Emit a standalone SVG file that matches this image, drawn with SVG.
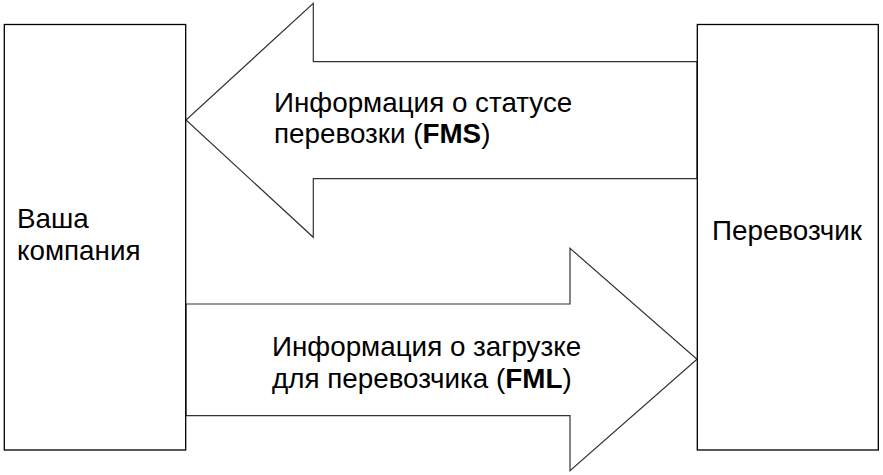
<svg xmlns="http://www.w3.org/2000/svg" width="883" height="475" viewBox="0 0 883 475">
<style>
.box{fill:#fff;stroke:#000;stroke-width:1.3}
.arr{fill:#fff;stroke:#333;stroke-width:1.2}
text{font-family:"Liberation Sans",Arial,sans-serif;font-size:27.8px;fill:#000}
.b{font-weight:bold}
</style>
<rect width="883" height="475" fill="#fff"/>
<g id="connectors">
<polygon id="arrow-fms" class="arr" points="697,61.7 313.3,61.7 313.3,3.3 186,120 313.3,237.3 313.3,178.7 697,178.7"/>
<polygon id="arrow-fml" class="arr" points="186,304 570,304 570,248.3 697,359.3 570,470.7 570,415.7 186,415.7"/>
<text x="274" y="111.7">Информация о статусе</text>
<text x="274" y="143.3">перевозки (<tspan class="b">FMS</tspan>)</text>
<text x="272" y="356">Информация о загрузке</text>
<text x="272" y="388">для перевозчика (<tspan class="b">FML</tspan>)</text>
</g>
<g id="node-company">
<rect class="box" x="4.3" y="24.5" width="181.4" height="425.5"/>
<text x="17" y="228.3">Ваша</text>
<text x="17" y="260">компания</text>
</g>
<g id="node-carrier">
<rect class="box" x="697.3" y="24.5" width="181" height="425.5"/>
<text x="712" y="240">Перевозчик</text>
</g>
</svg>
